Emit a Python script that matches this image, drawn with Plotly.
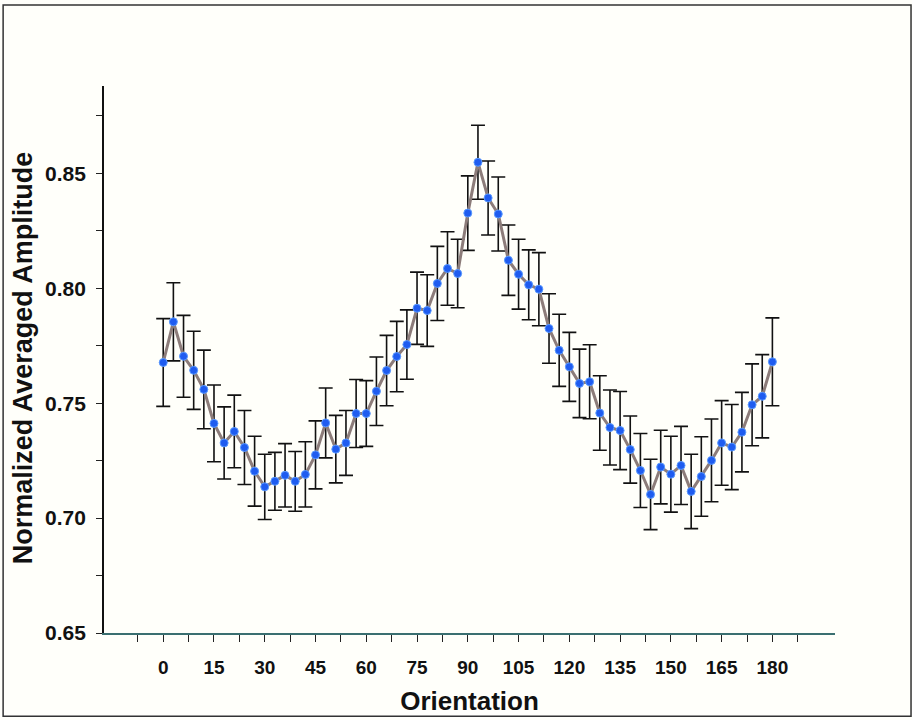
import plotly.graph_objects as go

orientation = list(range(0, 181, 3))
amplitude = [
    0.7677, 0.7854, 0.7704, 0.7643, 0.7560, 0.7412, 0.7327, 0.7377, 0.7307, 0.7204,
    0.7136, 0.7160, 0.7186, 0.7160, 0.7190, 0.7275, 0.7414, 0.7300, 0.7327, 0.7455,
    0.7455, 0.7552, 0.7642, 0.7703, 0.7755, 0.7913, 0.7903, 0.8021, 0.8086, 0.8064,
    0.8327, 0.8548, 0.8393, 0.8323, 0.8122, 0.8061, 0.8015, 0.7996, 0.7825, 0.7730,
    0.7658, 0.7586, 0.7593, 0.7457, 0.7394, 0.7381, 0.7298, 0.7207, 0.7103, 0.7222,
    0.7191, 0.7229, 0.7116, 0.7181, 0.7251, 0.7327, 0.7309, 0.7374, 0.7493, 0.7530,
    0.7680,
]
error = [
    0.0191, 0.0170, 0.0178, 0.0170, 0.0171, 0.0167, 0.0157, 0.0158, 0.0161, 0.0152,
    0.0142, 0.0126, 0.0138, 0.0130, 0.0142, 0.0148, 0.0152, 0.0147, 0.0141, 0.0148,
    0.0143, 0.0149, 0.0153, 0.0153, 0.0151, 0.0157, 0.0156, 0.0161, 0.0160, 0.0149,
    0.0162, 0.0161, 0.0161, 0.0161, 0.0153, 0.0152, 0.0152, 0.0159, 0.0151, 0.0157,
    0.0150, 0.0149, 0.0161, 0.0162, 0.0163, 0.0170, 0.0146, 0.0161, 0.0153, 0.0160,
    0.0165, 0.0170, 0.0162, 0.0173, 0.0180, 0.0184, 0.0185, 0.0173, 0.0178, 0.0181,
    0.0191,
]
x_ticks = list(range(0, 181, 15))
x_minor = [t - 7.5 for t in x_ticks] + [x_ticks[-1] + 7.5]
y_ticks = [0.65, 0.70, 0.75, 0.80, 0.85]
x_title = "Orientation"
y_title = "Normalized Averaged Amplitude"

FONT = "Liberation Sans, Arial, sans-serif"

fig = go.Figure()
fig.add_trace(go.Scatter(
    x=orientation, y=amplitude,
    mode="lines+markers",
    line=dict(color="#8c7c7a", width=3),
    marker=dict(color="#1f5cf0", size=8, line=dict(color="#5a9aff", width=1)),
    error_y=dict(type="data", array=error, visible=True,
                 color="#111111", thickness=1.6, width=7),
    showlegend=False,
))

fig.update_layout(
    width=912, height=720,
    margin=dict(l=104, r=77, t=86, b=87),
    paper_bgcolor="#fffffa",
    plot_bgcolor="#fffffa",
    xaxis=dict(
        range=[-17.5, 198.5], automargin=False,
        tickmode="array", tickvals=x_ticks, ticktext=[str(v) for v in x_ticks],
        ticks="outside", ticklen=7, tickwidth=1.2, tickcolor="#222222",
        minor=dict(tickvals=x_minor, ticks="outside", ticklen=7, tickwidth=1.2, tickcolor="#222222"),
        showline=True, linecolor="#3a6f70", linewidth=1.5,
        showgrid=False, zeroline=False,
        tickfont=dict(family=FONT, size=19, color="#111111", weight="bold"),
        ticklabelstandoff=9,
        title=dict(text=x_title, font=dict(family=FONT, size=26, color="#111111", weight="bold"), standoff=15),
    ),
    yaxis=dict(
        range=[0.65, 0.888], automargin=False,
        tickmode="array", tickvals=y_ticks, ticktext=[f"{v:.2f}\u00a0" for v in y_ticks],
        ticks="outside", ticklen=6, tickwidth=1.2, tickcolor="#222222",
        minor=dict(dtick=0.025, tick0=0.65, ticks="outside", ticklen=6, tickwidth=1.2, tickcolor="#222222"),
        showline=True, linecolor="#111111", linewidth=2,
        showgrid=False, zeroline=False,
        tickfont=dict(family=FONT, size=21, color="#111111", weight="bold"),
    ),
    annotations=[dict(text=y_title, xref="paper", yref="paper", x=-0.1115, y=0.503,
                      xanchor="center", yanchor="middle", textangle=-90, showarrow=False,
                      font=dict(family=FONT, size=27, color="#111111", weight="bold"))],
    shapes=[dict(type="rect", xref="paper", yref="paper",
                 x0=-0.138, x1=1.104, y0=-0.152, y1=1.148,
                 line=dict(color="#333333", width=1.5), fillcolor="rgba(0,0,0,0)")],
)

fig.write_html("out.html")
